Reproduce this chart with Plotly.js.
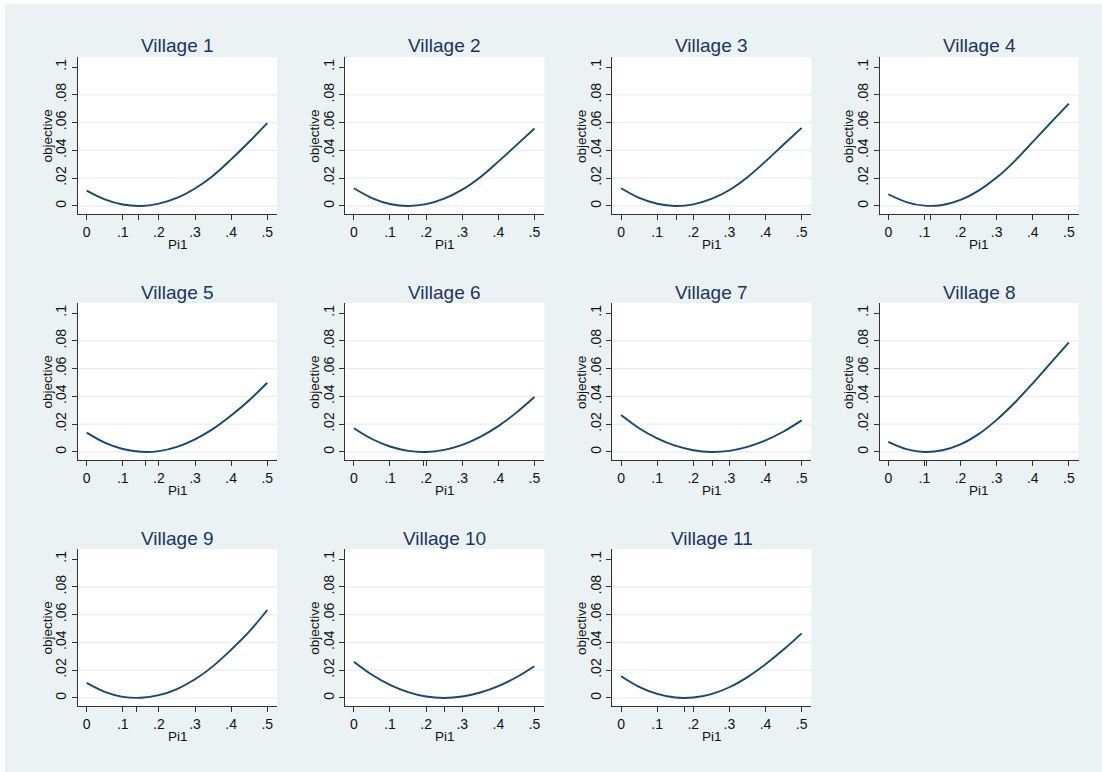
<!DOCTYPE html>
<html>
<head>
<meta charset="utf-8">
<script src="https://cdn.plot.ly/plotly-3.0.1.min.js"></script>
<style>html,body{margin:0;padding:0;background:#fff;}#chart{width:1102px;height:772px;}</style>
</head>
<body>
<div id="chart"></div>
<script>
// ---- data ----
const villages = ['Village 1','Village 2','Village 3','Village 4','Village 5','Village 6',
                  'Village 7','Village 8','Village 9','Village 10','Village 11'];
const pi1 = [0, 0.05, 0.10, 0.15, 0.20, 0.25, 0.30, 0.35, 0.40, 0.45, 0.50];
const village1  = [0.0110, 0.0047, 0.0010, 0.0000, 0.0017, 0.0058, 0.0126, 0.0218, 0.0335, 0.0462, 0.0596];
const village2  = [0.0127, 0.0057, 0.0014, 0.0000, 0.0013, 0.0052, 0.0117, 0.0207, 0.0319, 0.0438, 0.0557];
const village3  = [0.0127, 0.0058, 0.0016, 0.0000, 0.0011, 0.0050, 0.0115, 0.0207, 0.0321, 0.0442, 0.0562];
const village4  = [0.0084, 0.0028, 0.0002, 0.0007, 0.0043, 0.0110, 0.0204, 0.0323, 0.0461, 0.0600, 0.0737];
const village5  = [0.0139, 0.0067, 0.0021, 0.0001, 0.0006, 0.0037, 0.0091, 0.0166, 0.0262, 0.0372, 0.0498];
const village6  = [0.0170, 0.0093, 0.0039, 0.0008, 0.0000, 0.0015, 0.0051, 0.0109, 0.0186, 0.0283, 0.0395];
const village7  = [0.0266, 0.0171, 0.0098, 0.0045, 0.0012, 0.0000, 0.0008, 0.0036, 0.0083, 0.0147, 0.0227];
const village8  = [0.0072, 0.0020, 0.0000, 0.0012, 0.0054, 0.0128, 0.0231, 0.0354, 0.0494, 0.0641, 0.0789];
const village9  = [0.0108, 0.0044, 0.0008, 0.0001, 0.0020, 0.0064, 0.0134, 0.0229, 0.0347, 0.0477, 0.0633];
const village10 = [0.0261, 0.0167, 0.0094, 0.0042, 0.0010, 0.0000, 0.0010, 0.0039, 0.0085, 0.0149, 0.0228];
const village11 = [0.0156, 0.0080, 0.0029, 0.0003, 0.0003, 0.0028, 0.0077, 0.0150, 0.0243, 0.0348, 0.0465];
const series = [village1, village2, village3, village4, village5, village6,
                village7, village8, village9, village10, village11];
const minPi = [0.143, 0.151, 0.154, 0.118, 0.164, 0.192, 0.254, 0.107, 0.138, 0.250, 0.175];

const xTickVals = [0, 0.1, 0.2, 0.3, 0.4, 0.5];
const xTickText = ['0', '.1', '.2', '.3', '.4', '.5'];
const yTickVals = [0, 0.02, 0.04, 0.06, 0.08, 0.1];
const yTickText = ['0', '.02', '.04', '.06', '.08', '.1'];
const gridVals  = [0, 0.02, 0.04, 0.06, 0.08];

// ---- layout geometry ----
const W = 1102, H = 772;
const colLeft = [78, 345.2, 612.4, 879.6];
const plotW = 199;
const rowTop = [57, 303, 549];
const plotH = 157;

const BG = '#EAF2F3';
const NAVY = '#1a476f';
const FONT = 'Liberation Sans, Arial, sans-serif';

const traces = [];
const layout = {
  width: W, height: H,
  margin: {l: 0, r: 0, t: 0, b: 0},
  paper_bgcolor: BG,
  plot_bgcolor: '#ffffff',
  showlegend: false,
  font: {family: FONT, color: '#000'},
  annotations: [],
  shapes: [
    {type: 'rect', xref: 'paper', yref: 'paper', x0: 0, x1: 5 / W, y0: 0, y1: 1,
     fillcolor: '#ffffff', line: {width: 0}, layer: 'below'},
    {type: 'rect', xref: 'paper', yref: 'paper', x0: 0, x1: 1, y0: 1 - 4 / H, y1: 1,
     fillcolor: '#ffffff', line: {width: 0}, layer: 'below'}
  ]
};

series.forEach((vals, i) => {
  const r = Math.floor(i / 4), c = i % 4;
  const ax = i === 0 ? '' : String(i + 1);
  const xa = 'x' + ax, ya = 'y' + ax;
  const x0 = colLeft[c], x1 = colLeft[c] + plotW;
  const yTop = rowTop[r], yBot = rowTop[r] + plotH;

  traces.push({
    x: pi1, y: vals, xaxis: xa, yaxis: ya,
    type: 'scatter', mode: 'lines',
    line: {color: NAVY, width: 1.9, shape: 'spline', smoothing: 1},
    hoverinfo: 'skip'
  });

  const xvals = xTickVals.concat([minPi[i]]);
  const xtext = xTickText.concat(['']);

  layout['xaxis' + ax] = {
    domain: [x0 / W, x1 / W],
    anchor: ya,
    range: [-0.024, 0.527],
    tickmode: 'array', tickvals: xvals, ticktext: xtext,
    ticks: 'outside', ticklen: 5, tickwidth: 1, tickcolor: '#333',
    showline: true, linecolor: '#333', linewidth: 1,
    showgrid: false, zeroline: false,
    tickfont: {family: FONT, size: 14, color: '#111'},
    fixedrange: true
  };
  layout['yaxis' + ax] = {
    domain: [1 - yBot / H, 1 - yTop / H],
    anchor: xa,
    range: [-0.0058, 0.1072],
    tickmode: 'array', tickvals: yTickVals, ticktext: yTickText,
    tickangle: -90,
    ticks: 'outside', ticklen: 5, tickwidth: 1, tickcolor: '#333',
    showline: true, linecolor: '#333', linewidth: 1,
    showgrid: false, zeroline: false,
    tickfont: {family: FONT, size: 14, color: '#111'},
    fixedrange: true
  };

  gridVals.forEach(g => {
    layout.shapes.push({
      type: 'line', xref: xa + ' domain', yref: ya,
      x0: 0, x1: 1, y0: g, y1: g,
      line: {color: '#E6EEF1', width: 1.2}, layer: 'below'
    });
  });

  const cx = (x0 + x1) / 2 / W;
  layout.annotations.push({
    text: villages[i], xref: 'paper', yref: 'paper',
    x: cx, y: 1 - (yTop - 11) / H, xanchor: 'center', yanchor: 'middle',
    showarrow: false, font: {family: FONT, size: 19, color: '#1c3461'}
  });
  layout.annotations.push({
    text: 'objective', xref: 'paper', yref: 'paper',
    x: (x0 - 31) / W, y: 1 - ((yTop + yBot) / 2 + 1) / H,
    xanchor: 'center', yanchor: 'middle', textangle: -90,
    showarrow: false, font: {family: FONT, size: 13.5, color: '#111'}
  });
  layout.annotations.push({
    text: 'Pi1', xref: 'paper', yref: 'paper',
    x: cx, y: 1 - (yBot + 30) / H, xanchor: 'center', yanchor: 'middle',
    showarrow: false, font: {family: FONT, size: 13.5, color: '#111'}
  });
});

Plotly.newPlot('chart', traces, layout, {staticPlot: true, displayModeBar: false});
</script>
</body>
</html>
